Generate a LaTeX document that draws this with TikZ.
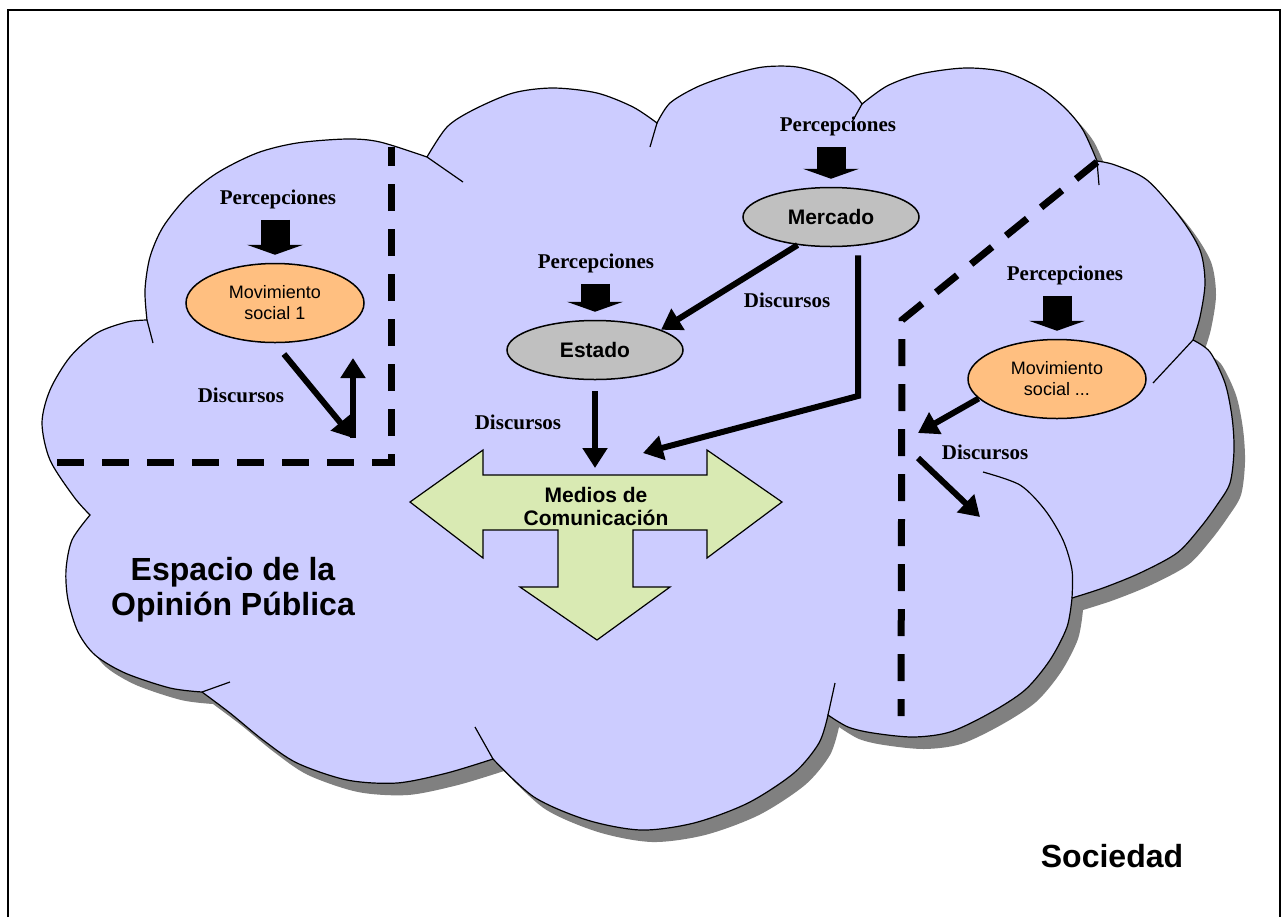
\documentclass[tikz,border=0pt]{standalone}
\usepackage{fontspec}
\setmainfont{Liberation Serif}
\setsansfont{Liberation Sans}
\usepackage{xcolor}
\usepackage{tikz}
\usetikzlibrary{arrows.meta,shapes.geometric}

\definecolor{nube}{RGB}{204,204,255}
\definecolor{sombra}{RGB}{128,128,128}
\definecolor{naranja}{RGB}{255,191,128}
\definecolor{gris}{RGB}{192,192,192}
\definecolor{verde}{RGB}{217,234,179}

\tikzset{
  percep/.style={font=\bfseries\fontsize{10.5}{12}\selectfont, inner sep=1pt},
  discurso/.style={font=\bfseries\fontsize{10.5}{12}\selectfont, inner sep=1pt},
  actor/.style={ellipse, draw, line width=0.75pt, fill=gris, inner sep=0pt,
    minimum width=88pt, minimum height=29.5pt,
    font=\sffamily\bfseries\fontsize{10.5}{12}\selectfont},
  movimiento/.style={ellipse, draw, line width=0.75pt, fill=naranja, inner sep=0pt,
    minimum width=89pt, minimum height=39.5pt, align=center,
    font=\sffamily\fontsize{9}{10.5}\selectfont},
  bloque/.style={line width=14.5pt, -{Triangle[length=5pt,width=28pt]},
    shorten <=4.5pt, shorten >=4pt},
  flecha/.style={line width=3pt, -{Triangle[length=10pt,width=12pt]}},
  limite/.style={line width=3.5pt, dash pattern=on 13.5pt off 9pt},
  rotulo/.style={font=\sffamily\bfseries\fontsize{16}{17.5}\selectfont, align=center},
}

\newcommand{\contornonube}{%
  plot[smooth] coordinates {(147,320) (145,290) (150,257) (163,227) (187,197) (217,173) (257,153) (297,143) (347,139) (380,142) (427,157)}
  -- plot[smooth] coordinates {(427,157) (447,127) (473,110) (513,93) (553,88) (597,93) (633,107) (657,123)}
  -- plot[smooth] coordinates {(657,123) (670,103) (697,87) (730,75) (763,67) (797,67) (830,77) (853,93) (862,104)}
  -- plot[smooth] coordinates {(862,104) (887,86) (920,74) (965,68) (1005,72) (1040,88) (1065,108) (1083,130) (1097,161)}
  -- plot[smooth] coordinates {(1097,161) (1115,165) (1147,180) (1180,217) (1200,250) (1205,283) (1200,317) (1193,340)}
  -- plot[smooth] coordinates {(1193,340) (1210,352) (1225,383) (1232,417) (1234,450) (1230,483) (1217,505) (1200,528) (1177,553) (1140,573) (1103,588) (1072,598)}
  -- plot[smooth] coordinates {(1072,598) (1067,627) (1050,660) (1025,690) (990,713) (950,732) (913,737) (873,733) (848,727) (828,715)}
  -- plot[smooth] coordinates {(828,715) (819,743) (794,773) (748,803) (694,823) (641,830) (587,820) (534,797) (493,759)}
  -- plot[smooth] coordinates {(493,759) (447,773) (397,783) (347,780) (297,763) (263,740) (230,713) (202,692)}
  -- plot[smooth] coordinates {(202,692) (170,688) (125,673) (95,655) (78,632) (68,600) (66,570) (72,540) (90,515)}
  -- plot[smooth] coordinates {(90,515) (74,497) (50,460) (42,423) (50,390) (70,357) (97,333) (127,322) (147,320)}
  -- cycle}

\begin{document}
\begin{tikzpicture}[x=0.5pt,y=-0.5pt]
  \useasboundingbox (0,0) rectangle (1286,917);
  \fill[white] (0,0) rectangle (1286,917);
  \draw[line width=1.25pt] (8,917) -- (8,10) -- (1280,10) -- (1280,917);

  \fill[sombra, shift={(11,12)}] \contornonube;
  \filldraw[fill=nube, draw=black, line width=0.6pt] \contornonube;
  \draw[line width=0.6pt] (147,320) -- (153,343) (427,157) -- (463,182)
    (657,123) -- (650,147) (862,104) -- (852,122) (1097,161) -- (1099,185)
    (1193,340) -- (1153,383) (828,715) -- (835,683) (493,759) -- (475,727)
    (202,692) -- (230,682);
  \draw[line width=0.6pt] plot[smooth] coordinates {(983,472) (1020,485) (1045,510) (1063,540) (1072,570) (1072,598)};

  \draw[limite] (57,462) -- (391,462) -- (391,147);
  \draw[limite] (1097,162) -- (902,320) -- (901,716);

  \filldraw[fill=verde, draw=black, line width=0.6pt] (410,502) -- (483,450) -- (483,475)
    -- (707,475) -- (707,450) -- (782,502) -- (707,558) -- (707,530) -- (633,530)
    -- (633,587) -- (670,587) -- (597,640) -- (520,587) -- (558,587) -- (558,530)
    -- (483,530) -- (483,558) -- cycle;
  \node[font=\sffamily\bfseries\fontsize{10.5}{11.5}\selectfont, align=center] (medios) at (596,506) {Medios de\\Comunicación};

  \node[movimiento] (mov1) at (275,303) {Movimiento\\social 1};
  \node[percep] (percMov1) at (278,199) {Percepciones};
  \node[actor] (mercado) at (831,217) {Mercado};
  \node[percep] (percMerc) at (838,126) {Percepciones};
  \node[actor] (estado) at (595,350) {Estado};
  \node[percep] (percEst) at (596,263) {Percepciones};
  \node[movimiento] (movN) at (1057,379) {Movimiento\\social ...};
  \node[percep] (percMovN) at (1065,275) {Percepciones};

  \node[discurso] (dMov1) at (241,395) {Discursos};
  \node[discurso] (dMerc) at (787,300) {Discursos};
  \node[discurso] (dEst) at (518,422) {Discursos};
  \node[discurso] (dMovN) at (985,452) {Discursos};

  \node[rotulo] (espacio) at (233,590) {Espacio de la\\Opinión Pública};
  \node[rotulo] (sociedad) at (1112,856) {Sociedad};

  \coordinate (esq1) at (353,438);
  \coordinate (arriba1) at (353,358);
  \coordinate (medA) at (595,468);
  \coordinate (medB) at (643,453);
  \coordinate (codo) at (858,396);
  \coordinate (discN) at (918,433);
  \coordinate (salN) at (918,458);
  \coordinate (llegaN) at (980,517);

  \draw[bloque] (percMov1.south -| mov1.north) -- (mov1.north);
  \draw[bloque] (percMerc.south -| mercado.north) -- (mercado.north);
  \draw[bloque] (percEst.south -| estado.north) -- (estado.north);
  \draw[bloque] (percMovN.south -| movN.north) -- (movN.north);

  \draw[flecha, shorten <=7pt] (mov1.south) -- (esq1);
  \draw[flecha] (esq1) -- (arriba1);
  \draw[flecha] (mercado.220) -- (estado.17);
  \draw[flecha, shorten <=5.5pt] (estado.south) -- (medA);
  \draw[flecha, shorten <=4pt] (mercado.south -| codo) -- (codo) -- (medB);
  \draw[flecha] (movN.194) -- (discN);
  \draw[flecha] (salN) -- (llegaN);
\end{tikzpicture}
\end{document}
